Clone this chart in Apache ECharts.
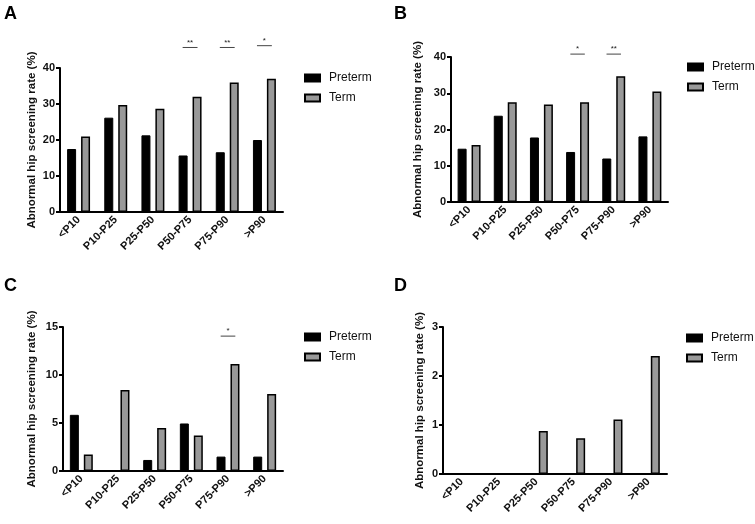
<!DOCTYPE html>
<html>
<head>
<meta charset="utf-8">
<script src="https://cdn.jsdelivr.net/npm/echarts@6/dist/echarts.min.js"></script>
<style>
  html, body { margin: 0; padding: 0; background: #fff; }
  #main { width: 755px; height: 524px; }
</style>
</head>
<body>
<div id="main"></div>
<script>
// categories (percentile bands)
const categories = ['<P10', 'P10-P25', 'P25-P50', 'P50-P75', 'P75-P90', '>P90'];

// panel A
const pretermA = [17.5, 26.2, 21.3, 15.7, 16.6, 20.0];
const termA = [21.0, 29.7, 28.7, 32.0, 36.0, 37.0];
// panel B
const pretermB = [14.7, 23.8, 17.8, 13.8, 12.0, 18.1];
const termB = [15.7, 27.5, 26.9, 27.5, 34.7, 30.5];
// panel C
const pretermC = [5.85, 0, 1.15, 4.95, 1.5, 1.5];
const termC = [1.72, 8.45, 4.47, 3.7, 11.15, 8.03];
// panel D
const pretermD = [0, 0, 0, 0, 0, 0];
const termD = [0, 0, 0.88, 0.73, 1.11, 2.41];

// significance marks: [category index, level, stars]
const sigA = [[3, 45.7, '**'], [4, 45.7, '**'], [5, 46.2, '*']];
const sigB = [[3, 40.8, '*'], [4, 40.8, '**']];
const sigC = [[4, 14.05, '*']];
const sigD = [];

// y axis ranges
const yMax = [40, 40, 15, 3];
const yStep = [10, 10, 5, 1];

const panels = [
  { label: 'A', pre: pretermA, term: termA, sig: sigA,
    grid: { left: 60, top: 68, width: 223, height: 144 }, nameGap: 22,
    legend: { left: 304, top: 71 }, tag: { x: 4, y: 5 } },
  { label: 'B', pre: pretermB, term: termB, sig: sigB,
    grid: { left: 451, top: 57, width: 217, height: 145 }, nameGap: 27,
    legend: { left: 687, top: 60 }, tag: { x: 394, y: 5 } },
  { label: 'C', pre: pretermC, term: termC, sig: sigC,
    grid: { left: 63, top: 327, width: 220, height: 144 }, nameGap: 25,
    legend: { left: 304, top: 330 }, tag: { x: 4, y: 277 } },
  { label: 'D', pre: pretermD, term: termD, sig: sigD,
    grid: { left: 443, top: 327, width: 224, height: 147 }, nameGap: 17,
    legend: { left: 686, top: 331 }, tag: { x: 394, y: 277 } }
];

const axisLine = { lineStyle: { color: '#000', width: 2 } };
const axisTick = { length: 4, lineStyle: { color: '#000', width: 2 } };

const option = {
  animation: false,
  backgroundColor: '#fff',
  textStyle: { fontFamily: 'Arial, "Liberation Sans", sans-serif' },
  grid: panels.map(p => p.grid),
  legend: panels.map(p => ({
    left: p.legend.left, top: p.legend.top,
    padding: 0,
    orient: 'vertical',
    data: ['Preterm', 'Term'],
    icon: 'rect',
    itemWidth: 15, itemHeight: 7, itemGap: 6,
    textStyle: { fontSize: 12, color: '#111', lineHeight: 14, padding: [0, 0, 0, 4] },
    selectedMode: false
  })),
  xAxis: panels.map((p, i) => ({
    type: 'category',
    gridIndex: i,
    data: categories,
    axisLine: axisLine,
    axisTick: Object.assign({ alignWithLabel: true }, axisTick),
    axisLabel: { interval: 0, rotate: 45, fontSize: 11, fontWeight: 'bold', color: '#111', margin: 6 }
  })),
  yAxis: panels.map((p, i) => ({
    type: 'value',
    gridIndex: i,
    min: 0, max: yMax[i], interval: yStep[i],
    name: 'Abnormal hip screening rate (%)',
    nameLocation: 'middle',
    nameRotate: 90,
    nameGap: p.nameGap,
    nameTextStyle: { fontSize: 11.5, fontWeight: 'bold', color: '#111' },
    axisLine: Object.assign({ show: true }, axisLine),
    axisTick: Object.assign({ show: true }, axisTick),
    splitLine: { show: false },
    axisLabel: { fontSize: 11, fontWeight: 'bold', color: '#111', margin: 5 }
  })),
  series: [],
  graphic: panels.map(p => ({
    type: 'text', left: p.tag.x, top: p.tag.y,
    style: { text: p.label, font: 'bold 18px Arial', fill: '#000' }
  }))
};

panels.forEach((p, i) => {
  option.series.push({
    name: 'Preterm', type: 'bar', xAxisIndex: i, yAxisIndex: i,
    data: p.pre, barWidth: 9, barGap: '55%',
    itemStyle: { color: '#000', borderColor: '#000', borderWidth: 1 }
  });
  option.series.push({
    name: 'Term', type: 'bar', xAxisIndex: i, yAxisIndex: i,
    data: p.term, barWidth: 9,
    itemStyle: { color: '#999', borderColor: '#000', borderWidth: 1.5 }
  });
  option.series.push({
    type: 'custom', xAxisIndex: i, yAxisIndex: i,
    data: p.sig,
    clip: false,
    silent: true,
    renderItem: function (params, api) {
      const c = api.coord([api.value(0), api.value(1)]);
      const bw = api.size([1, 0])[0];
      const half = bw * 0.2;
      return {
        type: 'group',
        children: [
          { type: 'line', shape: { x1: c[0] - half, y1: c[1], x2: c[0] + half, y2: c[1] },
            style: { stroke: '#444', lineWidth: 1 } },
          { type: 'text', x: c[0], y: c[1] - 1,
            style: { text: p.sig[params.dataIndex][2], fontSize: 8, fill: '#222',
                     align: 'center', verticalAlign: 'bottom' } }
        ]
      };
    }
  });
});

const myChart = echarts.init(document.getElementById('main'));
myChart.setOption(option);
</script>
</body>
</html>
